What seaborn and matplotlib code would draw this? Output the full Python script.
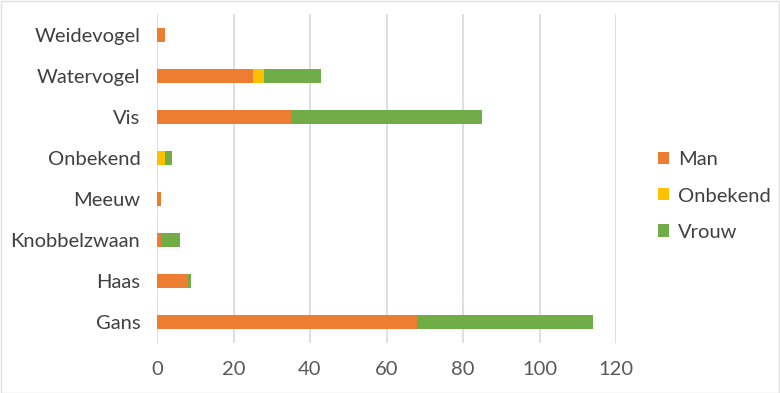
import matplotlib
matplotlib.use("Agg")
import matplotlib.pyplot as plt
import seaborn as sns
import pandas as pd
import numpy as np
from matplotlib.patches import Patch, Rectangle

categories = ["Weidevogel", "Watervogel", "Vis", "Onbekend", "Meeuw", "Knobbelzwaan", "Haas", "Gans"]
man = [2, 25, 35, 0, 1, 1, 8, 68]
onbekend = [0, 3, 0, 2, 0, 0, 0, 0]
vrouw = [0, 15, 50, 2, 0, 5, 1, 46]
series = ["Man", "Onbekend", "Vrouw"]
colors = {"Man": "#ED7D31", "Onbekend": "#FFC000", "Vrouw": "#70AD47"}
xticks = [0, 20, 40, 60, 80, 100, 120]

sns.set_theme(style="white")
plt.rcParams["font.family"] = ["Lato", "DejaVu Sans"]

df = pd.DataFrame({"cat": categories, "Man": man, "Onbekend": onbekend, "Vrouw": vrouw})
df["c1"] = df["Man"]
df["c2"] = df["Man"] + df["Onbekend"]
df["c3"] = df["c2"] + df["Vrouw"]

fig = plt.figure(figsize=(7.8, 3.93), dpi=100)
ax = fig.add_axes([157 / 780, 1 - 343 / 393, (616 - 157) / 780, (343 - 14) / 393])

width = 0.34
for col, s in [("c3", "Vrouw"), ("c2", "Onbekend"), ("c1", "Man")]:
    sns.barplot(data=df, x=col, y="cat", order=categories, color=colors[s],
                width=width, saturation=1, ax=ax, linewidth=0)

ax.set_xlim(0, 120)
ax.set_xticks(xticks)
ax.set_xticklabels([str(t) for t in xticks])
ax.set_xlabel("")
ax.set_ylabel("")
ax.set_ylim(len(categories) - 0.5, -0.5)
for sp in ax.spines.values():
    sp.set_visible(False)
ax.grid(axis="x", color="#D9D9D9", linewidth=1.2)
ax.set_axisbelow(True)
ax.tick_params(axis="x", length=0, pad=13, labelsize=14.5, labelcolor="#595959")
ax.tick_params(axis="y", length=0, pad=12, labelsize=14.5, labelcolor="#404040")

handles = [Patch(facecolor=colors[s], edgecolor="none") for s in series]
fig.legend(handles, series, loc="center left", bbox_to_anchor=(640 / 780, 1 - 196 / 393),
           frameon=False, fontsize=14.5, handlelength=0.55, handleheight=0.55,
           handletextpad=0.45, labelspacing=0.95, labelcolor="#404040")

fig.patches.append(Rectangle((0.5 / 780, 0.5 / 393), 1 - 1.5 / 780, 1 - 1.5 / 393,
                             transform=fig.transFigure, fill=False,
                             edgecolor="#E0E0E0", linewidth=1.0))

fig.savefig("out.png", dpi=100)
